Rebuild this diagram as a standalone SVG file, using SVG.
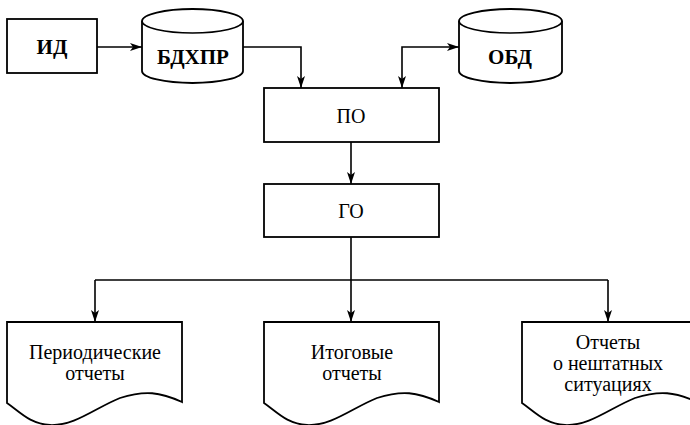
<svg xmlns="http://www.w3.org/2000/svg" width="690" height="425" viewBox="0 0 690 425">
<defs>
<marker id="ah" viewBox="0 0 12 8" refX="12" refY="4" markerWidth="12" markerHeight="8" markerUnits="userSpaceOnUse" orient="auto-start-reverse">
<path d="M0,0 L12,4 L0,8 L3,4 Z" fill="#000"/>
</marker>
<style>
.s{fill:#fff;stroke:#000;stroke-width:1.8}
.c{fill:none;stroke:#000;stroke-width:1.6}
text{font-family:'Liberation Serif','Tinos','Times New Roman','Times','Noto Serif','DejaVu Serif','FreeSerif',serif;text-anchor:middle}
.b{font-size:21px;font-weight:bold}
.t{font-size:20px}
</style>
</defs>
<rect width="690" height="425" fill="#fff"/>
<g id="connectors">
<path class="c" d="M97,47 H142" marker-end="url(#ah)"/>
<path class="c" d="M243,47 H301 V88" marker-end="url(#ah)"/>
<path class="c" d="M402,88 V47 H459" marker-start="url(#ah)" marker-end="url(#ah)"/>
<path class="c" d="M351,142 V184" marker-end="url(#ah)"/>
<path class="c" d="M351,237 V280"/>
<path class="c" d="M95,280 H608"/>
<path class="c" d="M95,280 V322" marker-end="url(#ah)"/>
<path class="c" d="M351,280 V322" marker-end="url(#ah)"/>
<path class="c" d="M608,280 V322" marker-end="url(#ah)"/>
</g>
<g id="id">
<rect class="s" x="7" y="19" width="90" height="54"/>
<text class="b" x="52" y="54">ИД</text>
</g>
<g id="bdhpr">
<path class="s" d="M142,21 V71 A50.5,12 0 0 0 243,71 V21 A50.5,12 0 0 0 142,21 Z"/>
<path class="c" d="M142,21 A50.5,12 0 0 0 243,21"/>
<text class="b" x="193" y="64">БДХПР</text>
</g>
<g id="obd">
<path class="s" d="M459,21 V71 A51.5,12 0 0 0 562,71 V21 A51.5,12 0 0 0 459,21 Z"/>
<path class="c" d="M459,21 A51.5,12 0 0 0 562,21"/>
<text class="b" x="510" y="64">ОБД</text>
</g>
<g id="po">
<rect class="s" x="264" y="88" width="175" height="54"/>
<text class="t" x="351" y="123">ПО</text>
</g>
<g id="go">
<rect class="s" x="264" y="184" width="175" height="53"/>
<text class="t" x="351" y="218">ГО</text>
</g>
<g id="doc1">
<path class="s" d="M7,322 H182 V402 C160,392 145,390 120,398 C95,408 75,426 50,425 C30,424 20,412 7,403 Z"/>
<text class="t" x="95" y="359">Периодические</text>
<text class="t" x="95" y="380">отчеты</text>
</g>
<g id="doc2">
<path class="s" d="M264,322 H439 V402 C417,392 402,390 377,398 C352,408 332,426 307,425 C287,424 277,412 264,403 Z"/>
<text class="t" x="352" y="359">Итоговые</text>
<text class="t" x="352" y="380">отчеты</text>
</g>
<g id="doc3">
<path class="s" d="M522,322 H697 V402 C675,392 660,390 635,398 C610,408 590,426 565,425 C545,424 535,412 522,403 Z"/>
<text class="t" x="608" y="349">Отчеты</text>
<text class="t" x="608" y="370">о нештатных</text>
<text class="t" x="608" y="391">ситуациях</text>
</g>
</svg>
